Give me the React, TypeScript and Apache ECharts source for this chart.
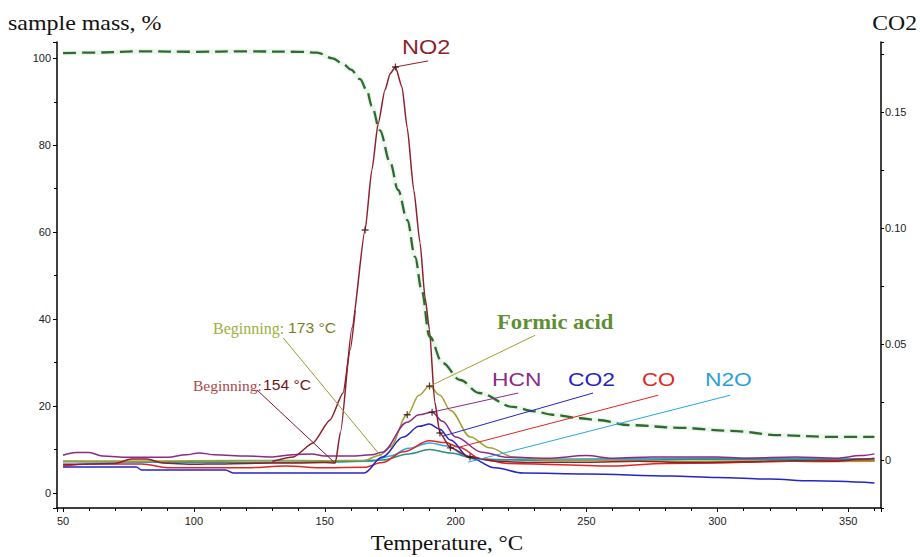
import React, { useEffect, useRef } from "react";
import * as echarts from "echarts";

// ---- data (temperature °C, value) ----
const sampleMass: [number, number][] = [
  [50, 101.2], [60, 101.3], [80, 101.6], [100, 101.5], [120, 101.6], [140, 101.5], [147, 101.3],
  [153, 100], [157, 98.7], [160, 97.4], [163.5, 95.2], [166, 92.7], [168, 89], [171, 83.5],
  [175, 76], [178, 69.7], [181.5, 62.8], [184.5, 54.3], [187, 46.7], [190, 36], [195, 29.9],
  [201.7, 26], [209, 23], [222, 19.8], [230, 18.8], [237, 18], [247.5, 17.2], [254, 16.8],
  [266.7, 15.6], [285.8, 15], [305, 14.3], [324, 13.3], [343, 12.9], [360, 12.9],
];
const no2: [number, number][] = [
  [50, 6.6], [60, 6.7], [70, 6.8], [76, 7.8], [82, 7.8], [88, 6.9], [100, 6.6], [110, 6.7],
  [120, 6.8], [130, 6.9], [140, 6.9], [150, 7.0], [154, 6.9], [156, 14], [160.4, 38],
  [165.4, 60.5], [168, 74.3], [170.4, 85], [173, 92.7], [175, 96.5], [177, 98], [179.5, 93.4],
  [181.5, 84], [184, 69.7], [186.4, 57.5], [188.3, 45], [190, 37.5], [192, 21], [194, 13.8],
  [198, 10.4], [205.5, 8.3], [215, 7.3], [230, 7.0], [250, 7.1], [270, 7.3], [290, 7.0],
  [310, 7.2], [330, 7.4], [345, 7.3], [355, 7.8], [360, 8.0],
];
const no2Rise: [number, number][] = [
  [130, 7.3], [138, 8.3], [145.5, 11.5], [152, 16.8], [157, 23], [159.7, 32.9], [161.6, 42],
];
const formicAcid: [number, number][] = [
  [50, 7.3], [80, 7.3], [100, 7.4], [130, 7.5], [150, 7.4], [165, 7.5], [171, 8.7], [175, 10.6],
  [181.5, 18], [186, 22.5], [190, 24.6], [194, 22.5], [198, 19], [205.6, 12.9], [213, 10.4],
  [222, 8.3], [235, 7.6], [260, 7.5], [290, 7.3], [320, 7.4], [340, 7.2], [360, 7.3],
];
const hcn: [number, number][] = [
  [50, 8.7], [55, 9.3], [60, 9.3], [65, 8.5], [75, 8.2], [90, 8.2], [97, 8.8], [102, 9.2],
  [108, 8.8], [120, 8.5], [130, 8.3], [138, 8.8], [145, 9.0], [150, 8.5], [160, 8.5], [168, 8.8],
  [172, 9.4], [181.5, 16.3], [186, 18], [191, 18.6], [195, 16.5], [200, 12.9], [210, 9.4],
  [220, 8.2], [235, 8.0], [250, 8.6], [260, 8.0], [275, 8.3], [290, 8.3], [300, 8.3], [310, 8.0],
  [330, 8.3], [345, 8.0], [355, 8.6], [360, 9.0],
];
// CO2 is read on the right-hand axis
const co2: [number, number][] = [
  [50, -0.003], [78, -0.003], [80, -0.0043], [112, -0.0043], [115, -0.0056], [165, -0.0056],
  [172, 0.0013], [180, 0.0099], [186, 0.0145], [190, 0.0155], [194, 0.0132], [198, 0.0086],
  [205, 0.0013], [215, -0.0034], [226, -0.0056], [250, -0.006], [282, -0.0069], [300, -0.0075],
  [320, -0.0082], [336, -0.009], [360, -0.0099],
];
const co: [number, number][] = [
  [50, 6.2], [60, 6.7], [80, 6.7], [90, 5.8], [120, 5.8], [135, 6.2], [150, 5.8], [165, 5.9],
  [172, 7.0], [180, 9.5], [190, 12], [196, 11.6], [201, 10.6], [210, 7.8], [220, 6.8], [240, 6.5],
  [260, 6.2], [280, 6.8], [300, 6.9], [320, 7.2], [340, 7.5], [360, 7.4],
];
const n2o: [number, number][] = [
  [50, 7.2], [100, 7.0], [150, 7.1], [168, 7.3], [175, 8.5], [182, 10.3], [190, 11.5],
  [197, 10.8], [204, 8.5], [212, 7.6], [230, 7.8], [260, 7.9], [300, 8.0], [330, 8.0], [360, 7.8],
];
const teal: [number, number][] = [
  [50, 7.3], [100, 7.2], [130, 7.0], [160, 7.3], [172, 7.6], [182, 9.0], [190, 10.0], [198, 9.2],
  [208, 7.8], [230, 7.5], [270, 7.6], [300, 7.8], [340, 7.7], [360, 7.6],
];
const crossMarks: [number, number][] = [
  [165.4, 60.5], [177, 98], [194, 13.8], [198, 10.4], [205.5, 8.3], [181.5, 18], [190, 24.6], [191, 18.6],
];
// leader lines: [from label, to curve]
const leaders: { name: string; pts: [number, number][]; color: string }[] = [
  { name: "NO2", pts: [[176.9, 98.0], [189.5, 99.4]], color: "#8e1f2c" },
  { name: "Formic acid", pts: [[230.4, 36.3], [190.2, 24.6]], color: "#a4a030" },
  { name: "HCN", pts: [[223.9, 23.0], [191, 18.6]], color: "#8a2a8a" },
  { name: "CO2", pts: [[252.5, 23.0], [195.2, 13.1]], color: "#2424c8" },
  { name: "CO", pts: [[277.4, 22.5], [201.7, 10.6]], color: "#e02525" },
  { name: "N2O", pts: [[304.9, 22.5], [204.8, 7.1]], color: "#2aa6e0" },
  { name: "Beginning 173", pts: [[134.1, 35.7], [171.1, 8.7]], color: "#9a9a30" },
  { name: "Beginning 154", pts: [[124.1, 23.7], [153.9, 6.9]], color: "#7a1a2a" },
];

const near = (v: number, step: number) => Math.abs(v / step - Math.round(v / step)) < 1e-6;

export default function App() {
  const ref = useRef<HTMLDivElement>(null);
  useEffect(() => {
    if (!ref.current) return;
    const chart = echarts.init(ref.current, undefined, { renderer: "svg" });
    const sans = '"Liberation Sans", Arial, sans-serif';
    const serif = '"Liberation Serif", "Times New Roman", serif';
    const curve = (name: string, data: [number, number][], color: string, yIdx = 0, z = 3, smooth = 0.35) => ({
      type: "line", name, data, yAxisIndex: yIdx, showSymbol: false, smooth,
      smoothMonotone: "x", z, lineStyle: { color, width: 1.5 }, itemStyle: { color },
    });
    const txt = (text: string, x: number, y: number, font: string, fill: string, sx = 1, align = "left") => ({
      type: "text", x, y, scaleX: sx, z: 100,
      style: { text, font, fill, textAlign: align, textVerticalAlign: "middle" },
    });
    const option: any = {
      animation: false,
      backgroundColor: "#ffffff",
      grid: { left: 57, right: 39, top: 42, bottom: 49 },
      xAxis: {
        type: "value", min: 47.7, max: 362.5, splitNumber: 5,
        axisLine: { show: true, onZero: false, lineStyle: { color: "#000", width: 1.5 } },
        axisTick: { show: true, length: 4, lineStyle: { color: "#000" } },
        minorTick: { show: true, splitNumber: 5, length: 3, lineStyle: { color: "#000" } },
        splitLine: { show: false },
        axisLabel: {
          fontFamily: sans, fontSize: 11, color: "#222", margin: 7,
          formatter: (v: number) => (near(v, 50) ? String(Math.round(v)) : ""),
        },
      },
      yAxis: [
        {
          type: "value", position: "left", min: -3.45, max: 103.75, splitNumber: 5,
          axisLine: { show: true, onZero: false, lineStyle: { color: "#000", width: 1.5 } },
          axisTick: { show: true, length: 4, lineStyle: { color: "#000" } },
          minorTick: { show: true, splitNumber: 2, length: 3, lineStyle: { color: "#000" } },
          splitLine: { show: false },
          axisLabel: {
            fontFamily: sans, fontSize: 11, color: "#222", margin: 6,
            formatter: (v: number) => (near(v, 20) ? String(Math.round(v)) : ""),
          },
        },
        {
          type: "value", position: "right", min: -0.0207, max: 0.1802, splitNumber: 5,
          axisLine: { show: true, onZero: false, lineStyle: { color: "#000", width: 1.5 } },
          axisTick: { show: true, length: 3, lineStyle: { color: "#000" } },
          minorTick: { show: true, splitNumber: 2, length: 3, lineStyle: { color: "#000" } },
          splitLine: { show: false },
          axisLabel: {
            fontFamily: sans, fontSize: 11, color: "#222", margin: 4,
            formatter: (v: number) => (near(v, 0.05) ? (Math.abs(v) < 1e-9 ? "0" : v.toFixed(2)) : ""),
          },
        },
      ],
      series: [
        {
          type: "line", name: "mass halo", data: sampleMass, showSymbol: false, smooth: 0.35,
          smoothMonotone: "x", z: 1, lineStyle: { color: "rgba(140,200,140,0.16)", width: 5 },
        },
        curve("N2O", n2o, "#2aa6e0"),
        curve("teal", teal, "#2f8f80"),
        curve("CO", co, "#e02525"),
        curve("CO2", co2, "#2424c8", 1),
        curve("Formic acid", formicAcid, "#a4a030"),
        curve("HCN", hcn, "#8a2a8a"),
        curve("NO2 rise", no2Rise, "#8e1f2c", 0, 3, 0.2),
        curve("NO2", no2, "#8e1f2c", 0, 4, 0.2),
        {
          type: "line", name: "sample mass", data: sampleMass, showSymbol: false, smooth: 0.35,
          smoothMonotone: "x", z: 5, lineStyle: { color: "#2e6b2e", width: 2.3, type: [13, 6] },
        },
        ...leaders.map((l) => ({
          type: "line", name: l.name, data: l.pts, showSymbol: false, z: 6,
          lineStyle: { color: l.color, width: 1 },
        })),
        {
          type: "scatter", name: "marks", data: crossMarks, z: 7,
          symbol: "path://M5 0 L5 10 M0 5 L10 5", symbolSize: 7,
          itemStyle: { color: "none", borderColor: "#3a1010", borderWidth: 1.3 },
        },
      ],
      graphic: [
        txt("sample mass, %", 8, 23, `21px ${serif}`, "#111", 1.14),
        txt("CO2", 917, 23, `21px ${serif}`, "#111", 1.13, "right"),
        txt("Temperature, °C", 447, 543, `21px ${serif}`, "#111", 1.1, "center"),
        txt("NO2", 402, 47, `21px ${sans}`, "#8e1f2c", 1.12),
        txt("Formic acid", 497, 322, `bold 22px ${serif}`, "#5e8f35", 1.03),
        txt("HCN", 492, 379, `19px ${sans}`, "#8a2a8a", 1.2),
        txt("CO2", 568, 379, `19px ${sans}`, "#2424c0", 1.2),
        txt("CO", 642, 379, `19px ${sans}`, "#e02525", 1.16),
        txt("N2O", 705, 379, `19px ${sans}`, "#2aa0d8", 1.2),
        txt("Beginning:", 213, 328, `16px ${serif}`, "#9ab040", 1.0),
        txt("173 °C", 288, 328, `14px ${sans}`, "#7d7d1e", 1.12),
        txt("Beginning:", 193, 385, `15.5px ${serif}`, "#a84848", 1.0),
        txt("154 °C", 263, 385, `14px ${sans}`, "#6a1818", 1.12),
      ],
    };
    chart.setOption(option);
    return () => chart.dispose();
  }, []);
  return <div ref={ref} style={{ width: 920, height: 557, position: "absolute", left: 0, top: 0 }} />;
}
